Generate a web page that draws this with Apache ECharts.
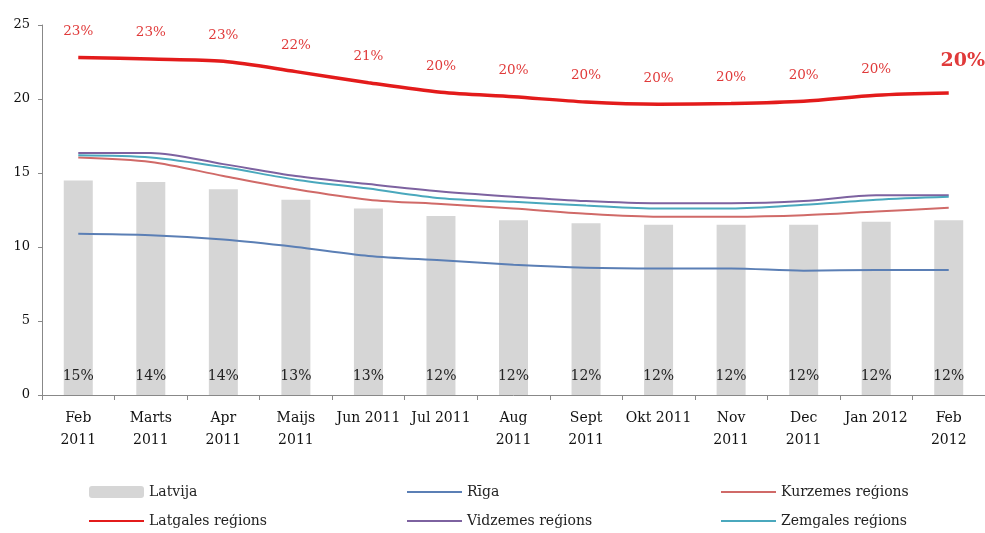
<!DOCTYPE html>
<html>
<head>
<meta charset="utf-8">
<script src="https://cdn.jsdelivr.net/npm/echarts@6/dist/echarts.min.js"></script>
<style>
  html, body { margin: 0; padding: 0; background: #fff; }
  #chart { width: 985px; height: 533px; }
</style>
</head>
<body>
<div id="chart"></div>
<script>
const months = ['Feb\n2011', 'Marts\n2011', 'Apr\n2011', 'Maijs\n2011', 'Jun 2011', 'Jul 2011',
  'Aug\n2011', 'Sept\n2011', 'Okt 2011', 'Nov\n2011', 'Dec\n2011', 'Jan 2012', 'Feb\n2012'];

const latvija = [14.5, 14.4, 13.9, 13.2, 12.6, 12.1, 11.8, 11.6, 11.5, 11.5, 11.5, 11.7, 11.8];
const riga = [10.9, 10.8, 10.5, 10.0, 9.4, 9.1, 8.8, 8.6, 8.55, 8.55, 8.4, 8.45, 8.45];
const kurzeme = [16.05, 15.75, 14.8, 13.9, 13.2, 12.9, 12.6, 12.25, 12.05, 12.05, 12.15, 12.4, 12.65];
const latgale = [22.8, 22.7, 22.55, 21.85, 21.1, 20.45, 20.15, 19.8, 19.65, 19.7, 19.85, 20.25, 20.4];
const vidzeme = [16.35, 16.35, 15.6, 14.8, 14.25, 13.75, 13.4, 13.1, 12.95, 12.95, 13.1, 13.5, 13.5];
const zemgale = [16.2, 16.05, 15.4, 14.55, 13.95, 13.3, 13.05, 12.8, 12.6, 12.6, 12.85, 13.2, 13.4];

const font = 'DejaVu Serif';
const colors = {
  latvija: '#d6d6d6', riga: '#5b7fb5', kurzeme: '#d06a68',
  latgale: '#e31b1b', vidzeme: '#7d62a0', zemgale: '#4aa8bd'
};

function line(name, data, color, width) {
  return {
    name: name, type: 'line', data: data, smooth: 0.3,
    symbol: 'circle', symbolSize: 0.1, showSymbol: true,
    lineStyle: { color: color, width: width }, itemStyle: { color: color },
    z: 3
  };
}

const last = latgale.length - 1;
const latgaleSeries = line('Latgales reģions', latgale.map((v, i) => i === last ? {
  value: v, label: { fontSize: 19, fontWeight: 'bold', distance: 22, offset: [14, 0] }
} : v), colors.latgale, 3.5);
latgaleSeries.label = {
  show: true, position: 'top', distance: 19, color: '#e03a3a',
  fontFamily: font, fontSize: 13.5,
  formatter: p => Math.round(p.value) + '%'
};

// line legend entries: hide the centre marker, keep the stroke
const lineItem = name => ({ name: name, itemStyle: { opacity: 0 } });

const legendText = { fontFamily: font, fontSize: 14, color: '#222' };
const legendBase = {
  orient: 'vertical', top: 485, height: 48, padding: 0,
  itemWidth: 55, itemHeight: 12, itemGap: 15,
  textStyle: legendText, selectedMode: false
};

const chart = echarts.init(document.getElementById('chart'));
chart.setOption({
  animation: false,
  backgroundColor: '#fff',
  grid: { left: 42, top: 25, width: 965, bottom: 138, containLabel: false },
  xAxis: {
    type: 'category', data: months, boundaryGap: true,
    axisLine: { lineStyle: { color: '#888' } },
    axisTick: { show: true, length: 5, lineStyle: { color: '#888' } },
    axisLabel: { interval: 0, color: '#111', fontFamily: font, fontSize: 14, lineHeight: 22, margin: 12 }
  },
  yAxis: {
    type: 'value', min: 0, max: 25, interval: 5,
    splitLine: { show: false },
    axisLine: { show: true, lineStyle: { color: '#888' } },
    axisTick: { show: true, length: 4, lineStyle: { color: '#888' } },
    axisLabel: { color: '#111', fontFamily: font, fontSize: 13, margin: 12 }
  },
  legend: [
    Object.assign({ left: 88, data: ['Latvija', lineItem('Latgales reģions')] }, legendBase),
    Object.assign({ left: 406, data: [lineItem('Rīga'), lineItem('Vidzemes reģions')] }, legendBase),
    Object.assign({ left: 720, data: [lineItem('Kurzemes reģions'), lineItem('Zemgales reģions')] }, legendBase)
  ],
  series: [
    {
      name: 'Latvija', type: 'bar', data: latvija, barWidth: 29,
      itemStyle: { color: colors.latvija },
      label: {
        show: true, position: 'insideBottom', distance: 12, color: '#222',
        fontFamily: font, fontSize: 14,
        formatter: p => Math.round(p.value) + '%'
      },
      z: 1
    },
    line('Rīga', riga, colors.riga, 2),
    line('Kurzemes reģions', kurzeme, colors.kurzeme, 2),
    latgaleSeries,
    line('Vidzemes reģions', vidzeme, colors.vidzeme, 2),
    line('Zemgales reģions', zemgale, colors.zemgale, 2)
  ]
});
</script>
</body>
</html>
